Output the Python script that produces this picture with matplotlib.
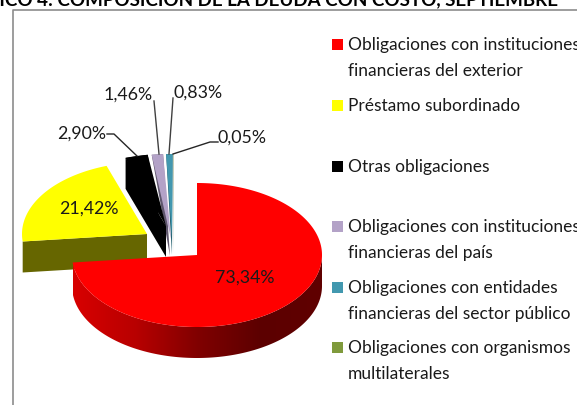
import numpy as np
import matplotlib
matplotlib.use("Agg")
import matplotlib.pyplot as plt
from matplotlib.colors import LinearSegmentedColormap
from matplotlib.patches import Polygon, Rectangle

plt.rcParams["font.family"] = ["Lato", "DejaVu Sans"]

shares = [73.34, 21.42, 2.90, 1.46, 0.83, 0.05]
share_labels = ["73,34%", "21,42%", "2,90%", "1,46%", "0,83%", "0,05%"]
categories = [
    "Obligaciones con instituciones\nfinancieras del exterior",
    "Préstamo subordinado",
    "Otras obligaciones",
    "Obligaciones con instituciones\nfinancieras del país",
    "Obligaciones con entidades\nfinancieras del sector público",
    "Obligaciones con organismos\nmultilaterales",
]
colors = ["#ff0000", "#ffff00", "#000000", "#b3a2c7", "#4298af", "#d5e0c4"]
legend_colors = ["#ff0000", "#ffff00", "#000000", "#b3a2c7", "#4298af", "#7f9a3c"]
wall_colors = ["#800000", "#666600", "#000000", "#5f566c", "#24606f", "#4d5d24"]

RX, RY, DEPTH = 125, 72, 31
# centre of each slice's rim, pixels
centers = [(197, 256), (147, 235), (166, 227), (170, 227), (173, 227), (174, 227)]
# where the top face closes and where the dark side ends, thin slices only
face_apex = {2: (166, 227), 3: (171, 240), 4: (172, 238), 5: (174, 238)}
tips = {2: (166, 256), 3: (170, 257), 4: (172, 256), 5: (174, 256)}
legend_y = [45, 106, 167, 227, 288, 348.5]
label_pos = [(245, 278), (89, 209), (82, 134), (128, 95), (198.5, 93), (241.5, 138)]


def rim(center, a0, a1):
    t = np.radians(np.linspace(a0, a1, max(int(a1 - a0) * 2, 4)))
    return center[0] + RX * np.sin(t), center[1] - RY * np.cos(t)


fig = plt.figure(figsize=(5.77, 4.06), dpi=100)
ax = fig.add_axes([0, 0, 1, 1])

# frame
ax.plot([12.5, 12.5, 577], [406, 10.7, 10.7], color="#8c8c8c", lw=1.2)

# title is cut by the top of the picture
ax.text(254, -2, "GRÁFICO 4: COMPOSICIÓN DE LA DEUDA CON COSTO, SEPTIEMBRE",
        ha="center", va="center", fontsize=13.5, fontweight="bold", color="black")

stops = np.cumsum([0] + shares) * 3.6

# back slices first, red last so it covers the yellow wall
for i in [5, 4, 3, 2, 1]:
    c = centers[i]
    x, y = rim(c, stops[i], stops[i + 1])
    if i <= 2:
        ax.add_patch(Polygon([c, (x[0], y[0]), (x[0], y[0] + DEPTH), (c[0], c[1] + DEPTH)],
                             color=wall_colors[i], lw=0))
    if i >= 2:
        ax.add_patch(Polygon([(x[0], y[0]), tips[i], (x[-1], y[-1])], color=wall_colors[i], lw=0))
    a = face_apex.get(i, c)
    ax.add_patch(Polygon(np.column_stack([np.r_[a[0], x], np.r_[a[1], y]]), color=colors[i], lw=0))

# red slice wall, shaded from the left to the right
c = centers[0]
x, y = rim(c, 90, 264)
wall = Polygon(np.r_[np.column_stack([x, y]), np.column_stack([x[::-1], y[::-1] + DEPTH])],
               facecolor="none", lw=0)
ax.add_patch(wall)
red_wall = LinearSegmentedColormap.from_list(
    "red_wall", [(0, "#d80000"), (0.25, "#b80000"), (0.5, "#800000"), (0.75, "#5c0000"), (1, "#600000")])
shade = ax.imshow(np.linspace(0, 1, 256).reshape(1, -1), cmap=red_wall, aspect="auto",
                  extent=(x.min(), x.max(), y.max() + DEPTH, y.min()), vmin=0, vmax=1, zorder=1)
shade.set_clip_path(wall)
x, y = rim(c, stops[0], stops[1])
ax.add_patch(Polygon(np.column_stack([np.r_[c[0], x], np.r_[c[1], y]]),
                     color=colors[0], lw=0, zorder=2))

# leader lines
ax.plot([107, 114, 137], [135, 135, 157], color="#262626", lw=1, zorder=3)
ax.plot([154, 159], [102, 155], color="#404040", lw=1, zorder=3)
ax.plot([173, 169], [99, 155], color="#404040", lw=1, zorder=3)
ax.plot([218, 210, 173], [143, 143, 155], color="#262626", lw=1, zorder=3)

for (lx, ly), txt in zip(label_pos, share_labels):
    ax.text(lx, ly, txt, ha="center", va="center", fontsize=12.8, color="#1a1a1a", zorder=4)

# legend
for yy, col, cat in zip(legend_y, legend_colors, categories):
    ax.add_patch(Rectangle((332, yy - 5.5), 11, 11, color=col, lw=0))
    ax.text(348, yy - 8, cat, ha="left", va="top", fontsize=12.5, color="#1a1a1a",
            linespacing=1.75)

ax.set_xlim(0, 577)
ax.set_ylim(406, 0)
ax.axis("off")

fig.savefig("out.png", dpi=100)
